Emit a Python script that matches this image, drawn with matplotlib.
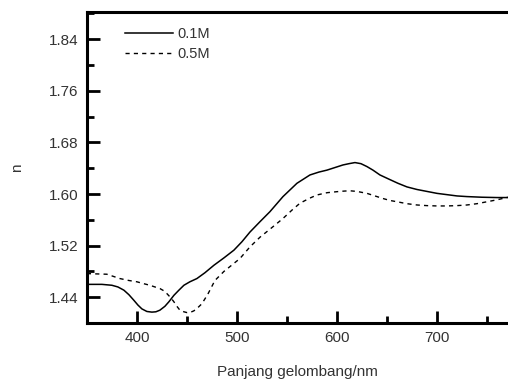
import numpy as np
import matplotlib
matplotlib.use('Agg')
import matplotlib.pyplot as plt
from matplotlib.ticker import MultipleLocator

plt.rcParams['font.family'] = ['Liberation Sans', 'DejaVu Sans']

# DATA --->
wl_01 = [350, 365, 375, 381, 387, 392, 397, 401, 405, 410, 415, 419, 423, 428, 432, 437,
         442, 447, 453, 460, 468, 477, 487, 497, 505, 513, 523, 533, 546, 560, 573, 582,
         590, 598, 606, 612, 618, 624, 630, 636, 643, 652, 661, 670, 680, 690, 700, 710,
         720, 730, 745, 760, 771]
n_01 = [1.460, 1.460, 1.4586, 1.456, 1.451, 1.444, 1.4353, 1.428, 1.422, 1.418, 1.417,
        1.4175, 1.420, 1.426, 1.433, 1.443, 1.451, 1.4586, 1.464, 1.469, 1.478, 1.4896,
        1.501, 1.513, 1.526, 1.541, 1.557, 1.5726, 1.5959, 1.6166, 1.6295, 1.634,
        1.637, 1.641, 1.645, 1.647, 1.6487, 1.647, 1.6425, 1.637, 1.6295, 1.623,
        1.6166, 1.611, 1.607, 1.604, 1.601, 1.599, 1.597, 1.596, 1.595, 1.5945, 1.5945]

wl_05 = [350, 370, 383, 392, 400, 407, 413, 418, 423, 427, 430, 434, 437, 440, 443, 447,
         450, 454, 457, 461, 465, 471, 478, 487, 495, 503, 513, 523, 535, 546, 555, 563,
         572, 580, 590, 600, 607, 613, 620, 630, 638, 646, 653, 660, 670, 680, 690, 700,
         710, 720, 730, 740, 750, 760, 771]
n_05 = [1.4767, 1.4757, 1.469, 1.466, 1.464, 1.461, 1.4586, 1.456, 1.4535, 1.450, 1.4457,
        1.439, 1.433, 1.426, 1.420, 1.4175, 1.4163, 1.417, 1.419, 1.424, 1.430, 1.445,
        1.466, 1.480, 1.490, 1.500, 1.518, 1.533, 1.548, 1.562, 1.575, 1.5857, 1.593,
        1.5985, 1.602, 1.6036, 1.6045, 1.605, 1.604, 1.601, 1.597, 1.593, 1.590, 1.588,
        1.585, 1.583, 1.582, 1.5815, 1.5815, 1.582, 1.583, 1.585, 1.588, 1.591, 1.595]
# <--- DATA

fig = plt.figure(figsize=(5.08, 3.81), dpi=100)
ax = fig.add_axes([0.171, 0.152, 0.829, 0.8165])

ax.plot(wl_01, n_01, color='k', linestyle='-', linewidth=1.1, label='0.1M')
ax.plot(wl_05, n_05, color='k', linestyle=(0, (3, 3)), linewidth=1.0, label='0.5M')

ax.set_xlim(350, 771)
ax.set_ylim(1.40, 1.882)
ax.xaxis.set_major_locator(MultipleLocator(100))
ax.xaxis.set_minor_locator(MultipleLocator(50))
ax.yaxis.set_minor_locator(MultipleLocator(0.04))
ax.set_yticks([1.44, 1.52, 1.60, 1.68, 1.76, 1.84])
ax.set_yticklabels(['1.44', '1.52', '1.60', '1.68', '1.76', '1.84'])

ax.tick_params(which='major', direction='in', length=9, width=2, labelsize=11,
               labelcolor='#333333', pad=6)
ax.tick_params(which='minor', direction='in', length=5, width=2)
ax.tick_params(axis='y', which='both', right=False)
ax.tick_params(axis='x', which='both', top=False)

for s in ['left', 'bottom', 'top']:
    ax.spines[s].set_linewidth(2.2)
ax.spines['right'].set_visible(False)

ax.set_xlabel('Panjang gelombang/nm', fontsize=11, color='#333333', labelpad=14)
ax.set_ylabel('n', fontsize=11, color='#333333', labelpad=18)

ax.legend(loc='upper left', bbox_to_anchor=(0.06, 0.995), frameon=False, fontsize=10.5,
          handlelength=3.3, handletextpad=0.3, labelspacing=0.45, labelcolor='#333333')

fig.savefig('out.png', dpi=100)
